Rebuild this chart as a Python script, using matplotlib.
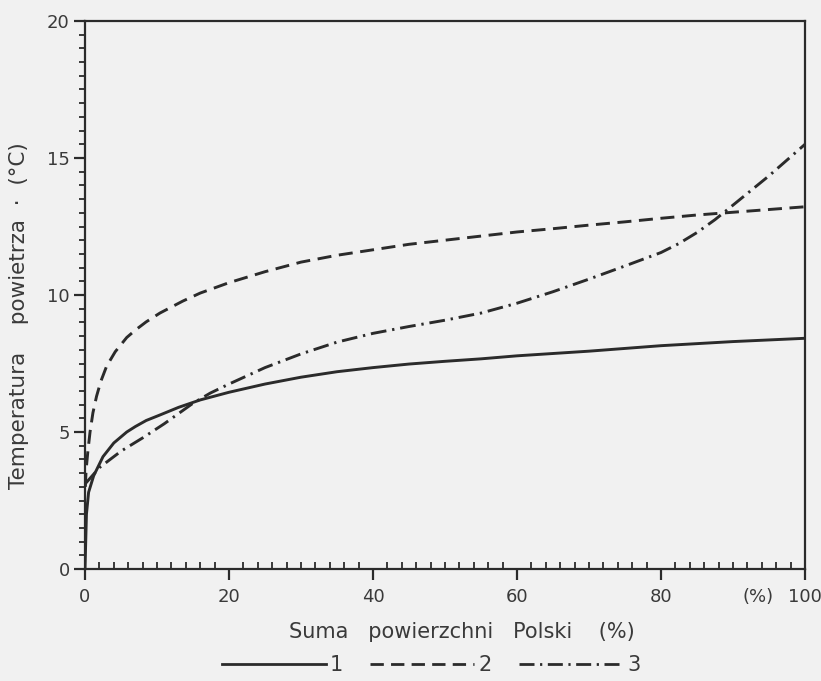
import matplotlib
matplotlib.use("Agg")
import matplotlib.pyplot as plt
from matplotlib.ticker import MultipleLocator
from matplotlib.lines import Line2D

# curve 1 (solid)
x1 = [0, 0.2, 0.5, 1.2, 2.5, 4, 5.8, 7, 8.5, 10.4, 13, 16, 20, 25, 30, 35, 40,
      45, 50, 55, 60, 70, 80, 90, 100]
y1 = [0, 2.0, 2.8, 3.4, 4.1, 4.6, 5.0, 5.2, 5.42, 5.62, 5.9, 6.17, 6.45, 6.75,
      7.0, 7.2, 7.35, 7.48, 7.58, 7.67, 7.78, 7.95, 8.15, 8.3, 8.42]

# curve 2 (dashed)
x2 = [0.05, 0.15, 0.4, 0.7, 1.1, 1.6, 2.2, 3.0, 4.2, 5.8, 7, 8.5, 10.4, 13.6,
      16, 20, 25, 30, 35, 40, 45, 50, 55, 60, 65, 70, 75, 80, 85, 90, 95, 100]
y2 = [3.0, 3.6, 4.3, 5.0, 5.7, 6.3, 6.85, 7.4, 7.93, 8.45, 8.72, 9.02, 9.34,
      9.78, 10.07, 10.45, 10.85, 11.2, 11.45, 11.65, 11.85, 12.0, 12.15, 12.3,
      12.42, 12.55, 12.67, 12.8, 12.92, 13.02, 13.12, 13.22]

# curve 3 (dash-dot)
x3 = [0, 1, 2, 3.5, 5, 8.1, 11, 15, 17.4, 20, 25, 30, 35, 40, 45, 50, 55, 60,
      65, 70, 75, 80, 82.5, 85, 87.5, 90, 95, 100]
y3 = [3.1, 3.4, 3.7, 4.0, 4.3, 4.8, 5.3, 6.05, 6.42, 6.75, 7.35, 7.85, 8.28,
      8.6, 8.85, 9.08, 9.34, 9.7, 10.12, 10.58, 11.06, 11.55, 11.88, 12.28,
      12.75, 13.28, 14.35, 15.5]

x_ticks = [0, 20, 40, 60, 80, 100]
y_ticks = [0, 5, 10, 15, 20]
series_labels = ["1", "2", "3"]

INK = "#2b2b2b"
TXT = "#3a3a3a"
BG = "#f1f1f1"
DASH = (0, (4.8, 2.6))
DASHDOT = (0, (5.4, 2.0, 0.8, 2.0))

plt.rcParams["font.family"] = ["DejaVu Sans"]

fig = plt.figure(figsize=(8.21, 6.81), dpi=100, facecolor=BG)
ax = fig.add_axes([85 / 821, 1 - 569 / 681, 720 / 821, 548 / 681])
ax.set_facecolor(BG)

ax.plot(x1, y1, color=INK, lw=2.1, solid_capstyle="round")
ax.plot(x2, y2, color=INK, lw=2.1, linestyle=DASH)
ax.plot(x3, y3, color=INK, lw=2.1, linestyle=DASHDOT)

ax.set_xlim(0, 100)
ax.set_ylim(0, 20)
ax.set_xticks(x_ticks)
ax.set_yticks(y_ticks)
ax.xaxis.set_minor_locator(MultipleLocator(2))
ax.yaxis.set_minor_locator(MultipleLocator(0.5))

for sp in ax.spines.values():
    sp.set_color(INK)
    sp.set_linewidth(1.6)

ax.tick_params(axis="x", which="major", direction="out", length=8, width=1.6,
               color=INK, labelcolor=TXT, labelsize=13, pad=6)
ax.tick_params(axis="x", which="minor", direction="in", length=5, width=1.3,
               color=INK)
ax.tick_params(axis="y", which="major", direction="out", length=8, width=1.6,
               color=INK, labelcolor=TXT, labelsize=13, pad=3)
ax.tick_params(axis="y", which="minor", direction="out", length=4.5, width=1.3,
               color=INK)

# "(%)" next to the last x tick label
ax.text(93.5, -0.68, "(%)", ha="center", va="top", fontsize=13, color=TXT)

fig.text(462 / 821, 1 - 632 / 681, "Suma   powierzchni   Polski    (%)",
         ha="center", va="center", fontsize=15, color=TXT)
fig.text(19 / 821, 1 - 316 / 681, "Temperatura    powietrza  ·  (°C)",
         ha="center", va="center", rotation=90, fontsize=15.5, color=TXT)

handles = [
    Line2D([], [], color=INK, lw=2.0),
    Line2D([], [], color=INK, lw=2.0, linestyle=DASH),
    Line2D([], [], color=INK, lw=2.0, linestyle=DASHDOT),
]
fig.legend(handles, series_labels, loc="center", bbox_to_anchor=(0.525, 1 - 665 / 681),
           ncol=3, frameon=False, fontsize=15, handlelength=5.0,
           handletextpad=0.2, columnspacing=1.3, labelcolor=TXT)

fig.savefig("out.png", dpi=100, facecolor=BG)
